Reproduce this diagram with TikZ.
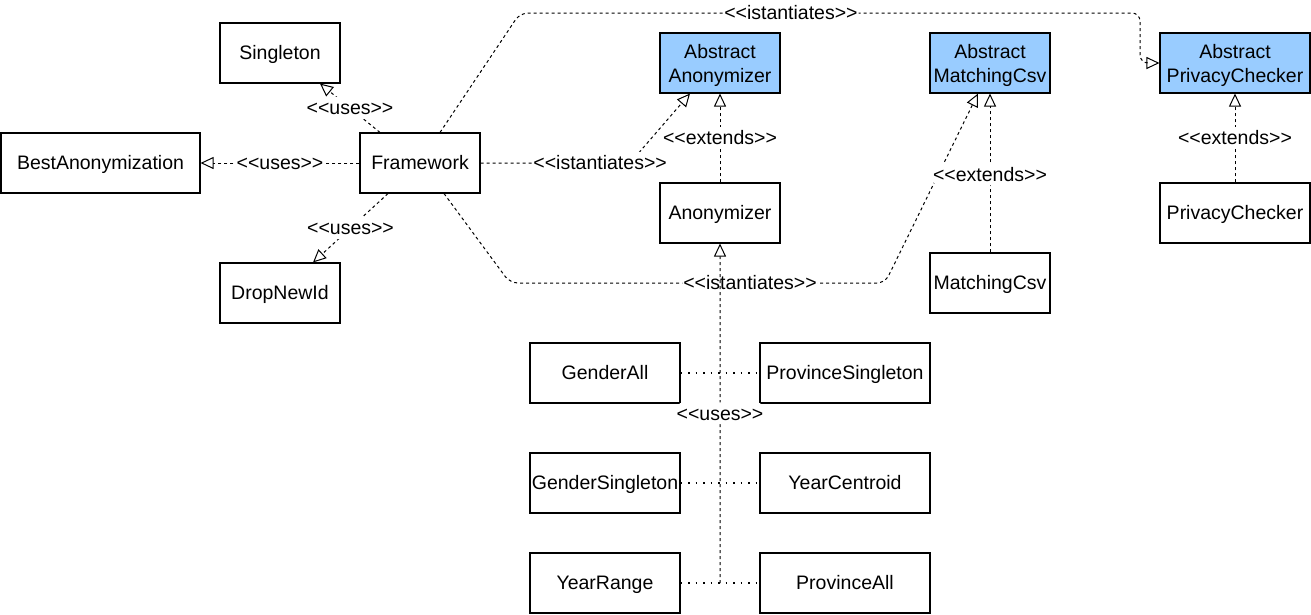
\documentclass[tikz,border=0pt]{standalone}
\usepackage{fontspec}
\setmainfont{Liberation Sans}
\usetikzlibrary{arrows.meta,calc}
\definecolor{absblue}{HTML}{99CCFF}
\newcommand\stereo[1]{<\kern0pt<#1>\kern0pt>}
\newcommand\boxstrut{\rule[-4.1pt]{0pt}{21.7pt}}
\tikzset{
  box/.style={draw, line width=1.1pt, minimum width=120, minimum height=60, inner sep=0pt, align=center, font=\fontsize{19.5}{24}\selectfont, execute at begin node=\boxstrut},
  wbox/.style={box, minimum width=150},
  abs/.style={box, fill=absblue, execute at begin node=\rule{0pt}{44pt}},
  lbl/.style={fill=white, inner xsep=1pt, inner ysep=0pt, text height=17.6pt, text depth=4.1pt, font=\fontsize{19.5}{24}\selectfont},
  dep/.style={line width=1pt, dash pattern=on 3pt off 3pt, -{Triangle[open, length=13pt, width=12pt]}, rounded corners=8pt},
  link/.style={line width=1.2pt, dash pattern=on 1.5pt off 6pt}
}
\begin{document}
\begin{tikzpicture}[x=1pt, y=-1pt]
  \useasboundingbox (0,0) rectangle (1311,614);
  % classes
  \node[box] (sing) at (280,53) {Singleton};
  \node[box, minimum width=199] (best) at (100.5,163) {BestAnonymization};
  \node[box] (fw) at (420,163) {Framework};
  \node[box] (drop) at (280,293) {DropNewId};
  \node[abs] (aa) at (720,63) {Abstract\\Anonymizer};
  \node[box] (anon) at (720,213) {Anonymizer};
  \node[abs] (amc) at (990,63) {Abstract\\MatchingCsv};
  \node[box] (mc) at (990,283) {MatchingCsv};
  \node[abs, minimum width=150] (apc) at (1235,63) {Abstract\\PrivacyChecker};
  \node[wbox] (pc) at (1235,213) {PrivacyChecker};
  % strategies
  \node[wbox] (ga) at (605,373) {GenderAll};
  \node[wbox, minimum width=170] (ps) at (845,373) {ProvinceSingleton};
  \node[wbox] (gs) at (605,483) {GenderSingleton};
  \node[wbox, minimum width=170] (yc) at (845,483) {YearCentroid};
  \node[wbox] (yr) at (605,583) {YearRange};
  \node[wbox, minimum width=170] (pa) at (845,583) {ProvinceAll};
  % uses
  \draw[dep] ([xshift=-40]fw.north) -- ([xshift=40]sing.south) node[lbl, pos=0.5] {\stereo{uses}};
  \draw[dep] (fw.west) -- (best.east) node[lbl, midway] {\stereo{uses}};
  \draw[dep] ([xshift=-32]fw.south) -- ([xshift=33]drop.north) node[lbl, pos=0.5] {\stereo{uses}};
  % istantiates
  \draw[dep] (fw.east) -- (630,163) node[lbl, pos=0.8] {\stereo{istantiates}} -- ([xshift=-30]aa.south);
  \draw[dep] ([xshift=20]fw.north) -- (520,13) -- (1140,13) node[lbl, pos=0.437] {\stereo{istantiates}} -- (1140,63) -- (apc.west);
  \draw[dep] ([xshift=24]fw.south) -- (510,283) -- (885,283) node[lbl, pos=0.64] {\stereo{istantiates}} -- ([xshift=-12]amc.south);
  % extends
  \draw[dep] (anon.north) -- (aa.south) node[lbl, midway] {\stereo{extends}};
  \draw[dep] (mc.north) -- (amc.south) node[lbl, pos=0.49] {\stereo{extends}};
  \draw[dep] (pc.north) -- (apc.south) node[lbl, midway] {\stereo{extends}};
  % strategies use Anonymizer
  \draw[link] (ga.east) -- (ps.west);
  \draw[link] (gs.east) -- (yc.west);
  \draw[link] (yr.east) -- (pa.west);
  \coordinate (m) at ($(yr.east)!0.5!(pa.west)$);
  \draw[dep] (m) -- (anon.south) node[lbl, midway] {\stereo{uses}};
\end{tikzpicture}
\end{document}
